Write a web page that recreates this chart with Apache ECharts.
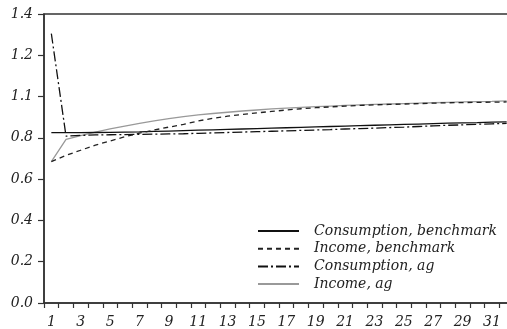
<!DOCTYPE html>
<html>
<head>
<meta charset="utf-8">
<script src="https://cdn.jsdelivr.net/npm/echarts@6/dist/echarts.min.js"></script>
<style>
html,body{margin:0;padding:0;background:#fff;}
#chart{width:507px;height:329px;}
</style>
</head>
<body>
<div id="chart"></div>
<script>
var categories = ['1','2','3','4','5','6','7','8','9','10','11','12','13','14','15','16','17','18','19','20','21','22','23','24','25','26','27','28','29','30','31','32'];
var yTickLabels = ['0.0','0.2','0.4','0.6','0.8','1.1','1.2','1.4'];
var consumptionBenchmark = [0.825,0.825,0.825,0.826,0.827,0.828,0.829,0.831,0.833,0.835,0.837,0.839,0.841,0.843,0.845,0.847,0.849,0.851,0.853,0.855,0.857,0.859,0.861,0.863,0.865,0.867,0.869,0.871,0.873,0.874,0.876,0.877];
var incomeBenchmark = [0.685,0.715,0.740,0.765,0.785,0.805,0.823,0.838,0.852,0.865,0.882,0.895,0.905,0.913,0.921,0.928,0.935,0.941,0.946,0.950,0.954,0.957,0.960,0.962,0.964,0.966,0.968,0.970,0.971,0.972,0.973,0.974];
var consumptionAg = [1.305,0.808,0.812,0.814,0.815,0.816,0.817,0.818,0.819,0.820,0.822,0.824,0.826,0.828,0.830,0.832,0.834,0.836,0.838,0.840,0.843,0.845,0.847,0.850,0.852,0.855,0.858,0.861,0.863,0.866,0.868,0.870];
var incomeAg = [0.685,0.793,0.811,0.828,0.843,0.857,0.870,0.882,0.893,0.903,0.911,0.918,0.924,0.930,0.935,0.940,0.944,0.948,0.951,0.954,0.957,0.960,0.962,0.964,0.966,0.968,0.970,0.972,0.974,0.976,0.977,0.979];

var font = 'DejaVu Serif';
var axisColor = '#333';
var chart = echarts.init(document.getElementById('chart'));
chart.setOption({
  animation: false,
  backgroundColor: '#fff',
  grid: {left: 44, top: 14, width: 470, height: 289, outerBoundsMode: 'none', containLabel: false,
    show: true, borderColor: axisColor, borderWidth: 1.5, backgroundColor: 'transparent'},
  legend: {
    orient: 'vertical', left: 252, top: 219, itemWidth: 41, itemHeight: 14, itemGap: 3.7,
    selectedMode: false,
    itemStyle: {opacity: 0},
    textStyle: {fontFamily: font, fontStyle: 'italic', fontSize: 14, color: '#222', padding: [0,0,0,10]},
    data: ['Consumption, benchmark','Income, benchmark','Consumption, ag','Income, ag']
  },
  xAxis: {
    type: 'category', data: categories, boundaryGap: true,
    axisLine: {lineStyle: {color: axisColor, width: 1.5}},
    axisTick: {show: true, interval: 0, length: 5, lineStyle: {color: axisColor, width: 1.2}},
    axisLabel: {interval: 1, margin: 12, fontFamily: font, fontStyle: 'italic', fontSize: 14, color: '#222'},
    splitLine: {show: false}
  },
  yAxis: {
    type: 'value', min: 0, max: 1.4, interval: 0.2,
    axisLine: {show: true, lineStyle: {color: axisColor, width: 1.5}},
    axisTick: {show: true, length: 6, lineStyle: {color: axisColor, width: 1.2}},
    axisLabel: {margin: 11, fontFamily: font, fontStyle: 'italic', fontSize: 14, color: '#222',
      formatter: function (v, i) { return yTickLabels[i]; }},
    splitLine: {show: false}
  },
  series: [
    {name: 'Income, ag', type: 'line', data: incomeAg, symbol: 'none', lineStyle: {color: '#999', width: 1.3, type: 'solid'}, itemStyle: {color: '#999'}, z: 1},
    {name: 'Consumption, benchmark', type: 'line', data: consumptionBenchmark, symbol: 'none', lineStyle: {color: '#111', width: 1.3, type: 'solid'}, itemStyle: {color: '#111'}, z: 2},
    {name: 'Income, benchmark', type: 'line', data: incomeBenchmark, symbol: 'none', lineStyle: {color: '#222', width: 1.3, type: [5,4]}, itemStyle: {color: '#222'}, z: 2},
    {name: 'Consumption, ag', type: 'line', data: consumptionAg, symbol: 'none', lineStyle: {color: '#111', width: 1.3, type: [10,3,2,3]}, itemStyle: {color: '#111'}, z: 3}
  ]
});
</script>
</body>
</html>
